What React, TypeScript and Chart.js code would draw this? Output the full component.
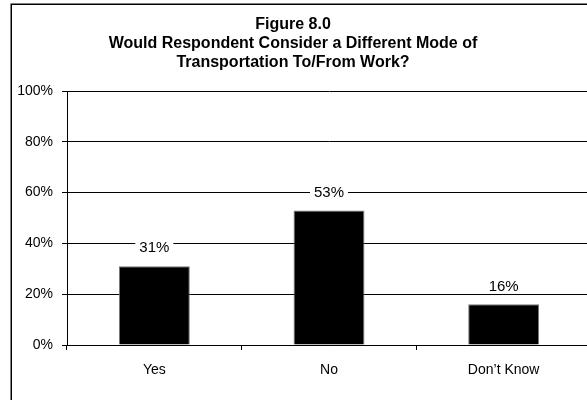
import React, { useEffect, useRef } from "react";
import { Chart, registerables } from "chart.js";

Chart.register(...registerables);

const categories = ["Yes", "No", "Don\u2019t Know"];
const values = [31, 53, 16];
const yTicks = [0, 20, 40, 60, 80, 100];
const titleLines = [
  "Figure 8.0",
  "Would Respondent Consider a Different Mode of",
  "Transportation To/From Work?",
];

const FONT = "'Liberation Sans', Arial, sans-serif";

const framePlugin = {
  id: "frame",
  beforeDraw(chart: any) {
    const ctx = chart.ctx;
    ctx.save();
    ctx.fillStyle = "#fff";
    ctx.fillRect(0, 0, chart.width, chart.height);
    ctx.strokeStyle = "#000";
    ctx.lineWidth = 1.5;
    ctx.strokeRect(11.25, 4.25, chart.width + 20, chart.height + 20);
    ctx.restore();
  },
  afterDraw(chart: any) {
    const ctx = chart.ctx;
    ctx.save();
    ctx.fillStyle = "#000";
    ctx.font = "bold 16px " + FONT;
    ctx.textAlign = "center";
    ctx.textBaseline = "middle";
    const ys = [25, 44, 63];
    titleLines.forEach((t, i) => ctx.fillText(t, 293, ys[i]));
    ctx.restore();
  },
};

const labelPlugin = {
  id: "barLabels",
  afterDatasetsDraw(chart: any) {
    const ctx = chart.ctx;
    const meta = chart.getDatasetMeta(0);
    ctx.save();
    ctx.font = "15px " + FONT;
    ctx.textAlign = "center";
    ctx.textBaseline = "middle";
    meta.data.forEach((bar: any, i: number) => {
      const txt = values[i] + "%";
      const w = ctx.measureText(txt).width;
      const cy = bar.y - 18;
      ctx.fillStyle = "#fff";
      ctx.fillRect(bar.x - w / 2 - 4, cy - 7, w + 8, 14);
      ctx.fillStyle = "#000";
      ctx.fillText(txt, bar.x, cy);
    });
    ctx.restore();
  },
};

export default function App() {
  const ref = useRef<HTMLCanvasElement>(null);
  useEffect(() => {
    if (!ref.current) return;
    const chart = new Chart(ref.current, {
      type: "bar",
      data: {
        labels: categories,
        datasets: [
          {
            data: values,
            backgroundColor: "#000",
            borderColor: "#777",
            borderWidth: 1,
            categoryPercentage: 1,
            barPercentage: 0.406,
          },
        ],
      },
      options: {
        responsive: false,
        devicePixelRatio: 1,
        animation: false,
        layout: { padding: { top: 91, left: 0, right: 9, bottom: 0 } },
        plugins: {
          legend: { display: false },
          tooltip: { enabled: false },
          title: { display: false },
        },
        scales: {
          y: {
            min: 0,
            max: 100,
            afterBuildTicks: (s: any) => {
              s.ticks = yTicks.map((v) => ({ value: v }));
            },
            afterFit: (s: any) => {
              s.width = 67;
            },
            ticks: {
              callback: (v: any) => v + "%",
              color: "#000",
              font: { family: FONT, size: 14 },
              padding: 9,
            },
            grid: { color: "#000", lineWidth: 1, tickLength: 5, drawTicks: true },
            border: { display: true, color: "#000", width: 1 },
          },
          x: {
            afterFit: (s: any) => {
              s.height = 65;
            },
            ticks: {
              color: "#000",
              font: { family: FONT, size: 14 },
              padding: 12,
            },
            grid: {
              drawOnChartArea: false,
              drawTicks: true,
              tickLength: 5,
              color: "#000",
              offset: true,
            },
            border: { display: true, color: "#000", width: 1 },
          },
        },
      },
      plugins: [framePlugin, labelPlugin],
    });
    return () => chart.destroy();
  }, []);
  return (
    <div
      style={{
        position: "fixed",
        left: 0,
        top: 0,
        width: 587,
        height: 400,
        overflow: "hidden",
        background: "#fff",
      }}
    >
      <canvas ref={ref} width={600} height={410} style={{ display: "block" }} />
    </div>
  );
}
